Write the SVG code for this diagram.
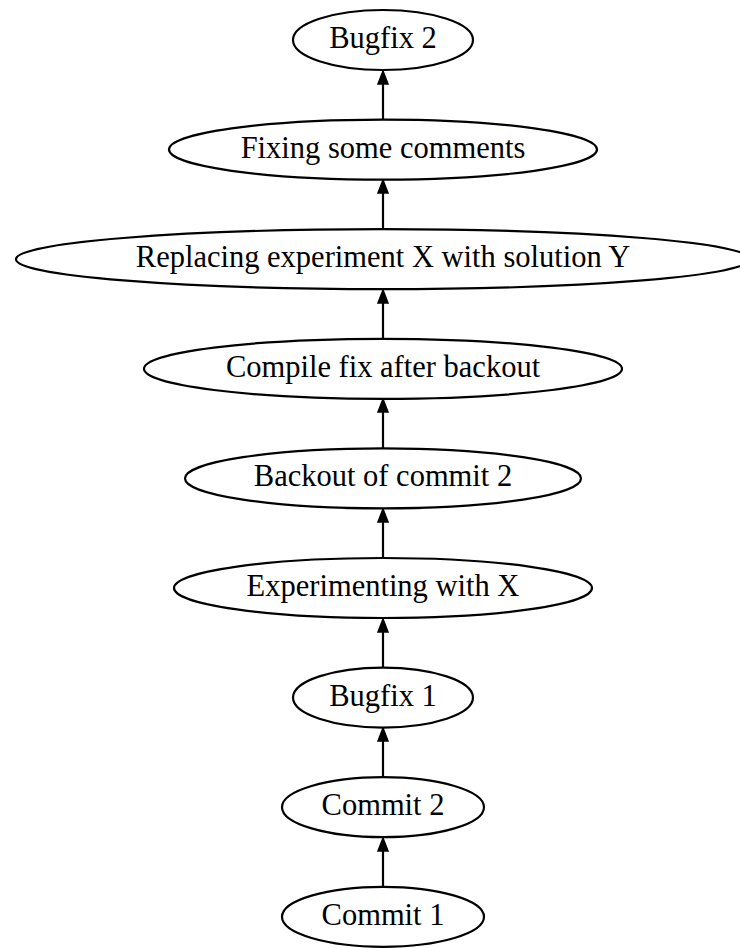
<svg xmlns="http://www.w3.org/2000/svg" width="740" height="948" viewBox="0 0 740 948">
<style>
.n ellipse{fill:#fff;stroke:#000;stroke-width:2.2}
.n text{font-family:"Liberation Serif","Times New Roman",serif;font-size:30.5px;text-anchor:middle;fill:#000}
.e line{stroke:#000;stroke-width:2.2}
.e polygon{fill:#000;stroke:#000;stroke-width:1.5}
</style>
<rect width="740" height="948" fill="#fff"/>
<g id="connectors" class="e">
<line x1="383" y1="887" x2="383" y2="851"/><polygon points="378,851 388,851 383,838"/>
<line x1="383" y1="777" x2="383" y2="741"/><polygon points="378,741 388,741 383,728"/>
<line x1="383" y1="668" x2="383" y2="632"/><polygon points="378,632 388,632 383,619"/>
<line x1="383" y1="558" x2="383" y2="522"/><polygon points="378,522 388,522 383,509"/>
<line x1="383" y1="448" x2="383" y2="412"/><polygon points="378,412 388,412 383,399"/>
<line x1="383" y1="339" x2="383" y2="303"/><polygon points="378,303 388,303 383,290"/>
<line x1="383" y1="229" x2="383" y2="193"/><polygon points="378,193 388,193 383,180"/>
<line x1="383" y1="120" x2="383" y2="84"/><polygon points="378,84 388,84 383,71"/>
</g>
<g id="n_bugfix2" class="n"><ellipse cx="383" cy="40" rx="90" ry="30"/><text x="383" y="48">Bugfix 2</text></g>
<g id="n_fixing" class="n"><ellipse cx="383" cy="149.6" rx="214" ry="30"/><text x="383" y="157.6">Fixing some comments</text></g>
<g id="n_replacing" class="n"><ellipse cx="383" cy="259.2" rx="367" ry="30"/><text x="383" y="267.2">Replacing experiment X with solution Y</text></g>
<g id="n_compile" class="n"><ellipse cx="383" cy="368.8" rx="239" ry="30"/><text x="383" y="376.8">Compile fix after backout</text></g>
<g id="n_backout" class="n"><ellipse cx="383" cy="478.4" rx="198" ry="30"/><text x="383" y="486.4">Backout of commit 2</text></g>
<g id="n_experimenting" class="n"><ellipse cx="383" cy="588" rx="209" ry="30"/><text x="383" y="596">Experimenting with X</text></g>
<g id="n_bugfix1" class="n"><ellipse cx="383" cy="697.6" rx="90" ry="30"/><text x="383" y="705.6">Bugfix 1</text></g>
<g id="n_commit2" class="n"><ellipse cx="383" cy="807.2" rx="101" ry="30"/><text x="383" y="815.2">Commit 2</text></g>
<g id="n_commit1" class="n"><ellipse cx="383" cy="916.8" rx="101" ry="30"/><text x="383" y="924.8">Commit 1</text></g>
</svg>
